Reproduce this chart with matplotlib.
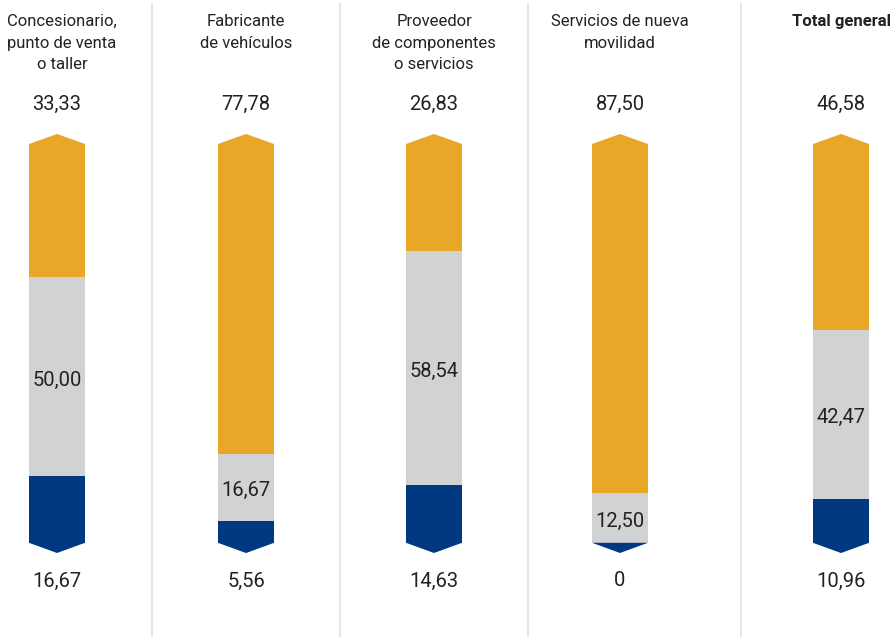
import matplotlib
matplotlib.use("Agg")
import matplotlib.pyplot as plt
from matplotlib.patches import Polygon

categories = ["Concesionario,\npunto de venta\no taller", "Fabricante\nde vehículos",
              "Proveedor\nde componentes\no servicios", "Servicios de nueva\nmovilidad",
              "Total general"]
top_vals = [33.33, 77.78, 26.83, 87.50, 46.58]      # orange
mid_vals = [50.00, 16.67, 58.54, 12.50, 42.47]      # grey
bot_vals = [16.67, 5.56, 14.63, 0.0, 10.96]         # blue

def fmt(v):
    if v == 0:
        return "0"
    return f"{v:.2f}".replace(".", ",")

# layout (pixel-based x coordinates)
W, H = 894, 637
xpos = [57, 246, 434, 620, 841]
seps = [152, 340, 528, 741]
bar_w = 56
px_top, px_bot = 144, 543
scale = (px_bot - px_top) / 100.0

def py(p):  # pixel y -> percent coordinate
    return (p - px_top) / scale

ORANGE = "#E8A726"
GREY = "#D1D2D4"
BLUE = "#003882"
TXT = "#222222"

plt.rcParams['font.family'] = ['Roboto', 'DejaVu Sans']
fig = plt.figure(figsize=(W / 100, H / 100), dpi=100)
ax = fig.add_axes([0, 0, 1, 1])
ax.set_xlim(0, W)
ax.set_ylim(py(H), py(0))
ax.axis("off")

for s in seps:
    ax.plot([s, s], [py(3), py(H)], color="#E6E6E6", lw=1.4, solid_capstyle="butt")

chev = 10 / scale
for i, x in enumerate(xpos):
    o, g, b = top_vals[i], mid_vals[i], bot_vals[i]
    ax.bar(x, o, bottom=0, width=bar_w, color=ORANGE, linewidth=0)
    ax.bar(x, g, bottom=o, width=bar_w, color=GREY, linewidth=0)
    ax.bar(x, b, bottom=o + g, width=bar_w, color=BLUE, linewidth=0)
    end = o + g + b
    ax.add_patch(Polygon([(x - bar_w / 2, 0.05), (x - bar_w / 2, 0),
                          (x, -chev), (x + bar_w / 2, 0), (x + bar_w / 2, 0.05)],
                         closed=True, color=ORANGE, lw=0))
    ax.add_patch(Polygon([(x - bar_w / 2, end - 0.05), (x + bar_w / 2, end - 0.05),
                          (x, end + chev)], closed=True, color=BLUE, lw=0))
    ax.text(x, py(104), fmt(o), ha="center", va="center", fontsize=14.5, color=TXT)
    ax.text(x, py(581), fmt(b), ha="center", va="center", fontsize=14.5, color=TXT)
    ax.text(x, o + g / 2 + 0.8, fmt(g), ha="center", va="center", fontsize=14.5, color=TXT)
    tx = x if i > 0 else 62
    bold = "bold" if i == len(categories) - 1 else "normal"
    ax.text(tx, py(14), categories[i], ha="center", va="top", fontsize=12,
            color=TXT, linespacing=1.56, fontweight=bold)

fig.savefig("out.png", dpi=100, facecolor="white")
